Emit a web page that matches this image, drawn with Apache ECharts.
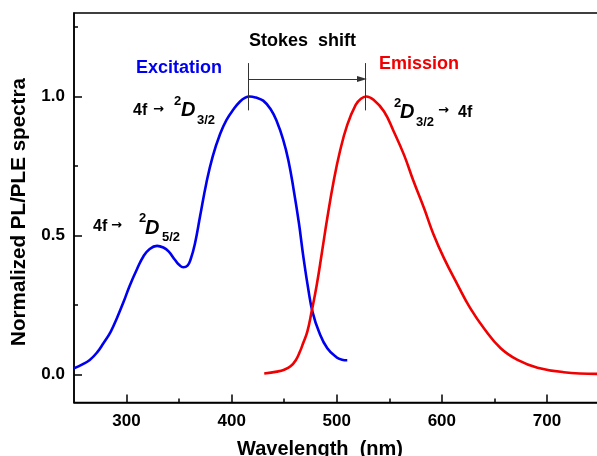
<!DOCTYPE html>
<html>
<head>
<meta charset="utf-8">
<script src="https://cdn.jsdelivr.net/npm/echarts@6/dist/echarts.min.js"></script>
<style>
html, body { margin: 0; padding: 0; background: #fff; }
#chart { width: 597px; height: 456px; }
</style>
</head>
<body>
<div id="chart"></div>
<script>
// excitation (PLE) spectrum
const excWl = [250, 258, 265, 272, 278, 285, 291, 297, 303, 310, 316, 322, 329, 335, 340, 346, 350, 354, 358, 361, 365, 370, 376, 382, 389, 395, 402, 408, 413, 417, 423, 430, 437, 443, 449, 454, 459, 464, 468, 473, 477, 483, 491, 500, 505, 510];
const excVal = [0.023, 0.037, 0.053, 0.08, 0.113, 0.155, 0.205, 0.26, 0.32, 0.38, 0.425, 0.452, 0.463, 0.457, 0.443, 0.413, 0.395, 0.386, 0.392, 0.415, 0.47, 0.57, 0.69, 0.785, 0.865, 0.915, 0.955, 0.982, 0.996, 1.0, 0.996, 0.985, 0.955, 0.91, 0.845, 0.77, 0.665, 0.545, 0.43, 0.305, 0.225, 0.155, 0.095, 0.062, 0.054, 0.052];

// emission (PL) spectrum
const emWl = [431, 443, 450, 456, 461, 465, 468, 472, 476, 481, 486, 491, 497, 503, 510, 518, 523, 528, 535, 545, 554, 564, 573, 583, 592, 602, 615, 627, 640, 656, 672, 691, 716, 750];
const emVal = [0.004, 0.011, 0.018, 0.03, 0.052, 0.083, 0.113, 0.155, 0.225, 0.323, 0.442, 0.563, 0.694, 0.802, 0.898, 0.97, 0.992, 1.0, 0.988, 0.946, 0.876, 0.79, 0.696, 0.599, 0.505, 0.419, 0.323, 0.239, 0.167, 0.095, 0.053, 0.025, 0.009, 0.003];

const xTicks = [300, 400, 500, 600, 700];
const xMinor = [350, 450, 550, 650];
const yTicks = [0, 0.5, 1.0];
const yMinor = [0.25, 0.75, 1.25];

// stokes shift marker: peak positions, bar extent, arrow height
const stokesPeaks = [416, 527];
const stokesBar = [0.95, 1.12];
const stokesArrowY = 1.063;

const FONT = '"Liberation Sans", Arial, Helvetica, sans-serif';
const ARROW_FONT = '"DejaVu Sans", sans-serif';

const toPairs = (xs, ys) => xs.map((x, i) => [x, ys[i]]);

const txt = (x, y, text, size, fill, italic, align, family) => ({
    type: 'text',
    x: x,
    y: y,
    silent: true,
    style: {
        text: text,
        font: (italic ? 'italic ' : '') + 'bold ' + size + 'px ' + (family || FONT),
        fill: fill || '#000',
        align: align || 'left',
        verticalAlign: 'middle',
        textAlign: align || 'left',
        textVerticalAlign: 'middle'
    }
});

const arrow = (x, y) => txt(x, y, '\u2192', 13, '#000', false, 'left', ARROW_FONT);

const chart = echarts.init(document.getElementById('chart'), null, {renderer: 'canvas'});

const tickStyle = {color: '#000', width: 1.5};

const yName = txt(0, 0, 'Normalized PL/PLE spectra', 20.6, '#000', false, 'center');
yName.x = 19;
yName.y = 212;
yName.rotation = Math.PI / 2;

chart.setOption({
    animation: false,
    backgroundColor: '#fff',
    grid: {
        left: 74,
        top: 13,
        right: -2.5,
        bottom: 53.5,
        show: true,
        borderColor: '#000',
        borderWidth: 1.5,
        containLabel: false,
        outerBoundsMode: 'none'
    },
    xAxis: [
        {
            type: 'value',
            min: 250,
            max: 750,
            position: 'bottom',
            axisLine: {onZero: false, lineStyle: {color: '#000', width: 1.5}},
            axisTick: {inside: true, length: 8, lineStyle: tickStyle, customValues: xTicks},
            axisLabel: {
                customValues: xTicks,
                margin: 10,
                fontFamily: FONT, fontWeight: 'bold', fontSize: 17, color: '#000'
            },
            splitLine: {show: false}
        },
        {
            type: 'value',
            min: 250,
            max: 750,
            position: 'bottom',
            axisLine: {show: false, onZero: false},
            axisTick: {inside: true, length: 4, lineStyle: tickStyle, customValues: xMinor},
            axisLabel: {show: false},
            splitLine: {show: false}
        }
    ],
    yAxis: [
        {
            type: 'value',
            min: -0.1,
            max: 1.3,
            position: 'left',
            axisLine: {show: true, onZero: false, lineStyle: {color: '#000', width: 1.5}},
            axisTick: {show: true, inside: true, length: 8, lineStyle: tickStyle, customValues: yTicks},
            axisLabel: {
                customValues: yTicks,
                margin: 9,
                formatter: v => v.toFixed(1),
                fontFamily: FONT, fontWeight: 'bold', fontSize: 17, color: '#000'
            },
            splitLine: {show: false}
        },
        {
            type: 'value',
            min: -0.1,
            max: 1.3,
            position: 'left',
            offset: 0,
            axisLine: {show: false, onZero: false},
            axisTick: {show: true, inside: true, length: 4, lineStyle: tickStyle, customValues: yMinor},
            axisLabel: {show: false},
            splitLine: {show: false}
        }
    ],
    series: [
        {
            name: 'Excitation',
            type: 'line',
            data: toPairs(excWl, excVal),
            showSymbol: false,
            smooth: 0.45,
            lineStyle: {color: '#0000f0', width: 2.6},
            itemStyle: {color: '#0000f0'},
            markLine: {
                silent: true,
                symbol: ['none', 'none'],
                label: {show: false},
                lineStyle: {color: '#333', width: 1, type: 'solid'},
                data: stokesPeaks.map(p => [{coord: [p, stokesBar[0]]}, {coord: [p, stokesBar[1]]}])
            }
        },
        {
            name: 'Emission',
            type: 'line',
            data: toPairs(emWl, emVal),
            showSymbol: false,
            smooth: 0.45,
            lineStyle: {color: '#f00000', width: 2.6},
            itemStyle: {color: '#f00000'},
            markLine: {
                silent: true,
                symbol: ['none', 'triangle'],
                symbolSize: [6, 10],
                label: {show: false},
                lineStyle: {color: '#333', width: 1, type: 'solid'},
                itemStyle: {color: '#111'},
                data: [[{coord: [stokesPeaks[0], stokesArrowY]}, {coord: [stokesPeaks[1] - 3, stokesArrowY]}]]
            }
        }
    ],
    graphic: [
        yName,
        txt(320, 449, 'Wavelength  (nm)', 20, '#000', false, 'center'),
        txt(249, 41, 'Stokes  shift', 18),
        txt(136, 68, 'Excitation', 18, '#0000f0'),
        txt(379, 64.5, 'Emission', 18, '#f00000'),
        // 4f -> 2D3/2 (excitation)
        txt(133, 111, '4f', 16),
        arrow(153, 110),
        txt(174, 101, '2', 13),
        txt(181, 110.5, 'D', 20, '#000', true),
        txt(197, 120, '3/2', 13),
        // 2D3/2 -> 4f (emission)
        txt(394, 103, '2', 13),
        txt(400, 112.5, 'D', 20, '#000', true),
        txt(416, 122, '3/2', 13),
        arrow(438, 111),
        txt(458, 112.5, '4f', 16),
        // 4f -> 2D5/2
        txt(93, 227, '4f', 16),
        arrow(111, 226),
        txt(139, 218.5, '2', 13),
        txt(145, 228.5, 'D', 20, '#000', true),
        txt(162, 237, '5/2', 13)
    ]
});
</script>
</body>
</html>
